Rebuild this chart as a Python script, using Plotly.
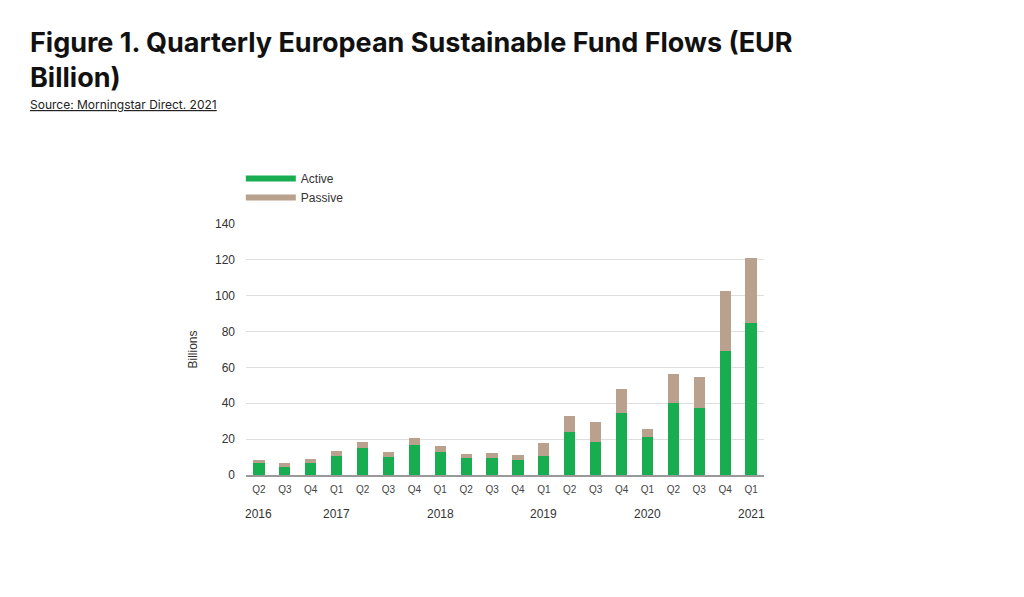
import plotly.graph_objects as go

quarters = ["Q2", "Q3", "Q4", "Q1", "Q2", "Q3", "Q4", "Q1", "Q2", "Q3",
            "Q4", "Q1", "Q2", "Q3", "Q4", "Q1", "Q2", "Q3", "Q4", "Q1"]
years = ["2016", "2016", "2016", "2017", "2017", "2017", "2017", "2018", "2018", "2018",
         "2018", "2019", "2019", "2019", "2019", "2020", "2020", "2020", "2020", "2021"]
active = [6.5, 4.6, 6.5, 10.7, 15.2, 10.2, 17.0, 12.6, 9.6, 9.3,
          8.3, 10.7, 24.1, 18.5, 34.6, 21.3, 40.4, 37.6, 69.4, 84.8]
total = [8.3, 6.9, 8.7, 13.5, 18.5, 12.9, 20.4, 16.3, 11.5, 12.0,
         11.1, 17.6, 32.8, 29.4, 47.8, 25.7, 56.1, 54.6, 102.4, 121.1]
passive = [round(t - a, 1) for t, a in zip(total, active)]
year_labels = ["2016", "2017", "2018", "2019", "2020", "2021"]
y_ticks = [0, 20, 40, 60, 80, 100, 120, 140]

GREEN = "#19ad52"
TAN = "#b9a18e"

idx = list(range(len(quarters)))

fig = go.Figure()
fig.add_trace(go.Bar(x=idx, y=active, name="Active", marker_color=GREEN,
                     marker_line_width=0, showlegend=False))
fig.add_trace(go.Bar(x=idx, y=passive, name="Passive", marker_color=TAN,
                     marker_line_width=0, showlegend=False))
# legend entries as wide line symbols
fig.add_trace(go.Scatter(x=[None], y=[None], mode="lines", name="Active",
                         line=dict(color=GREEN, width=6)))
fig.add_trace(go.Scatter(x=[None], y=[None], mode="lines", name="Passive",
                         line=dict(color=TAN, width=6)))

L, R, T, B = 246, 260, 224, 122
PW = 1024 - L - R
PH = 597 - T - B

annotations = []
for yl in year_labels:
    i = years.index(yl)
    annotations.append(dict(x=i, y=0, xref="x", yref="paper", text=yl,
                            showarrow=False, yanchor="top", yshift=-30,
                            font=dict(family="Liberation Sans", size=12, color="#333333")))
annotations.append(dict(x=(28 - L) / PW, y=(597 - B - 104) / PH, xref="paper", yref="paper",
                        xanchor="left", yanchor="middle", showarrow=False,
                        text="<u>Source: Morningstar Direct. 2021</u>",
                        font=dict(family="Inter", size=12, color="#222222")))

fig.update_layout(
    width=1024, height=597,
    margin=dict(l=L, r=R, t=T, b=B),
    paper_bgcolor="white", plot_bgcolor="white",
    barmode="stack", bargap=0.57,
    font=dict(family="Liberation Sans", size=12, color="#333333"),
    title=dict(text="Figure 1. Quarterly European Sustainable Fund Flows (EUR<br>Billion)",
               x=30 / 1024, xanchor="left", xref="container",
               y=1 - 52 / 597, yanchor="top", yref="container",
               font=dict(family="Inter", size=27, color="#111111", weight="bold")),
    legend=dict(x=-0.01, y=(597 - B - 164) / PH, xanchor="left", yanchor="top",
                traceorder="normal",
                font=dict(family="Liberation Sans", size=12, color="#333333"),
                itemwidth=50, tracegroupgap=0, bgcolor="rgba(0,0,0,0)"),
    xaxis=dict(tickmode="array", tickvals=idx, ticktext=quarters,
               range=[-0.5, len(idx) - 0.5], showgrid=False,
               showline=True, linecolor="#999999", linewidth=1.5,
               ticks="", ticklabelstandoff=4,
               tickfont=dict(size=10, color="#444444"), zeroline=False),
    yaxis=dict(range=[0, 140], tickvals=y_ticks, showgrid=True, gridcolor="#dedede",
               gridwidth=1, zeroline=False, ticks="", ticklabelstandoff=10,
               tickfont=dict(size=12, color="#333333"),
               title=dict(text="Billions", standoff=14, font=dict(size=12, color="#333333"))),
    annotations=annotations,
)

fig.write_html("out.html")
